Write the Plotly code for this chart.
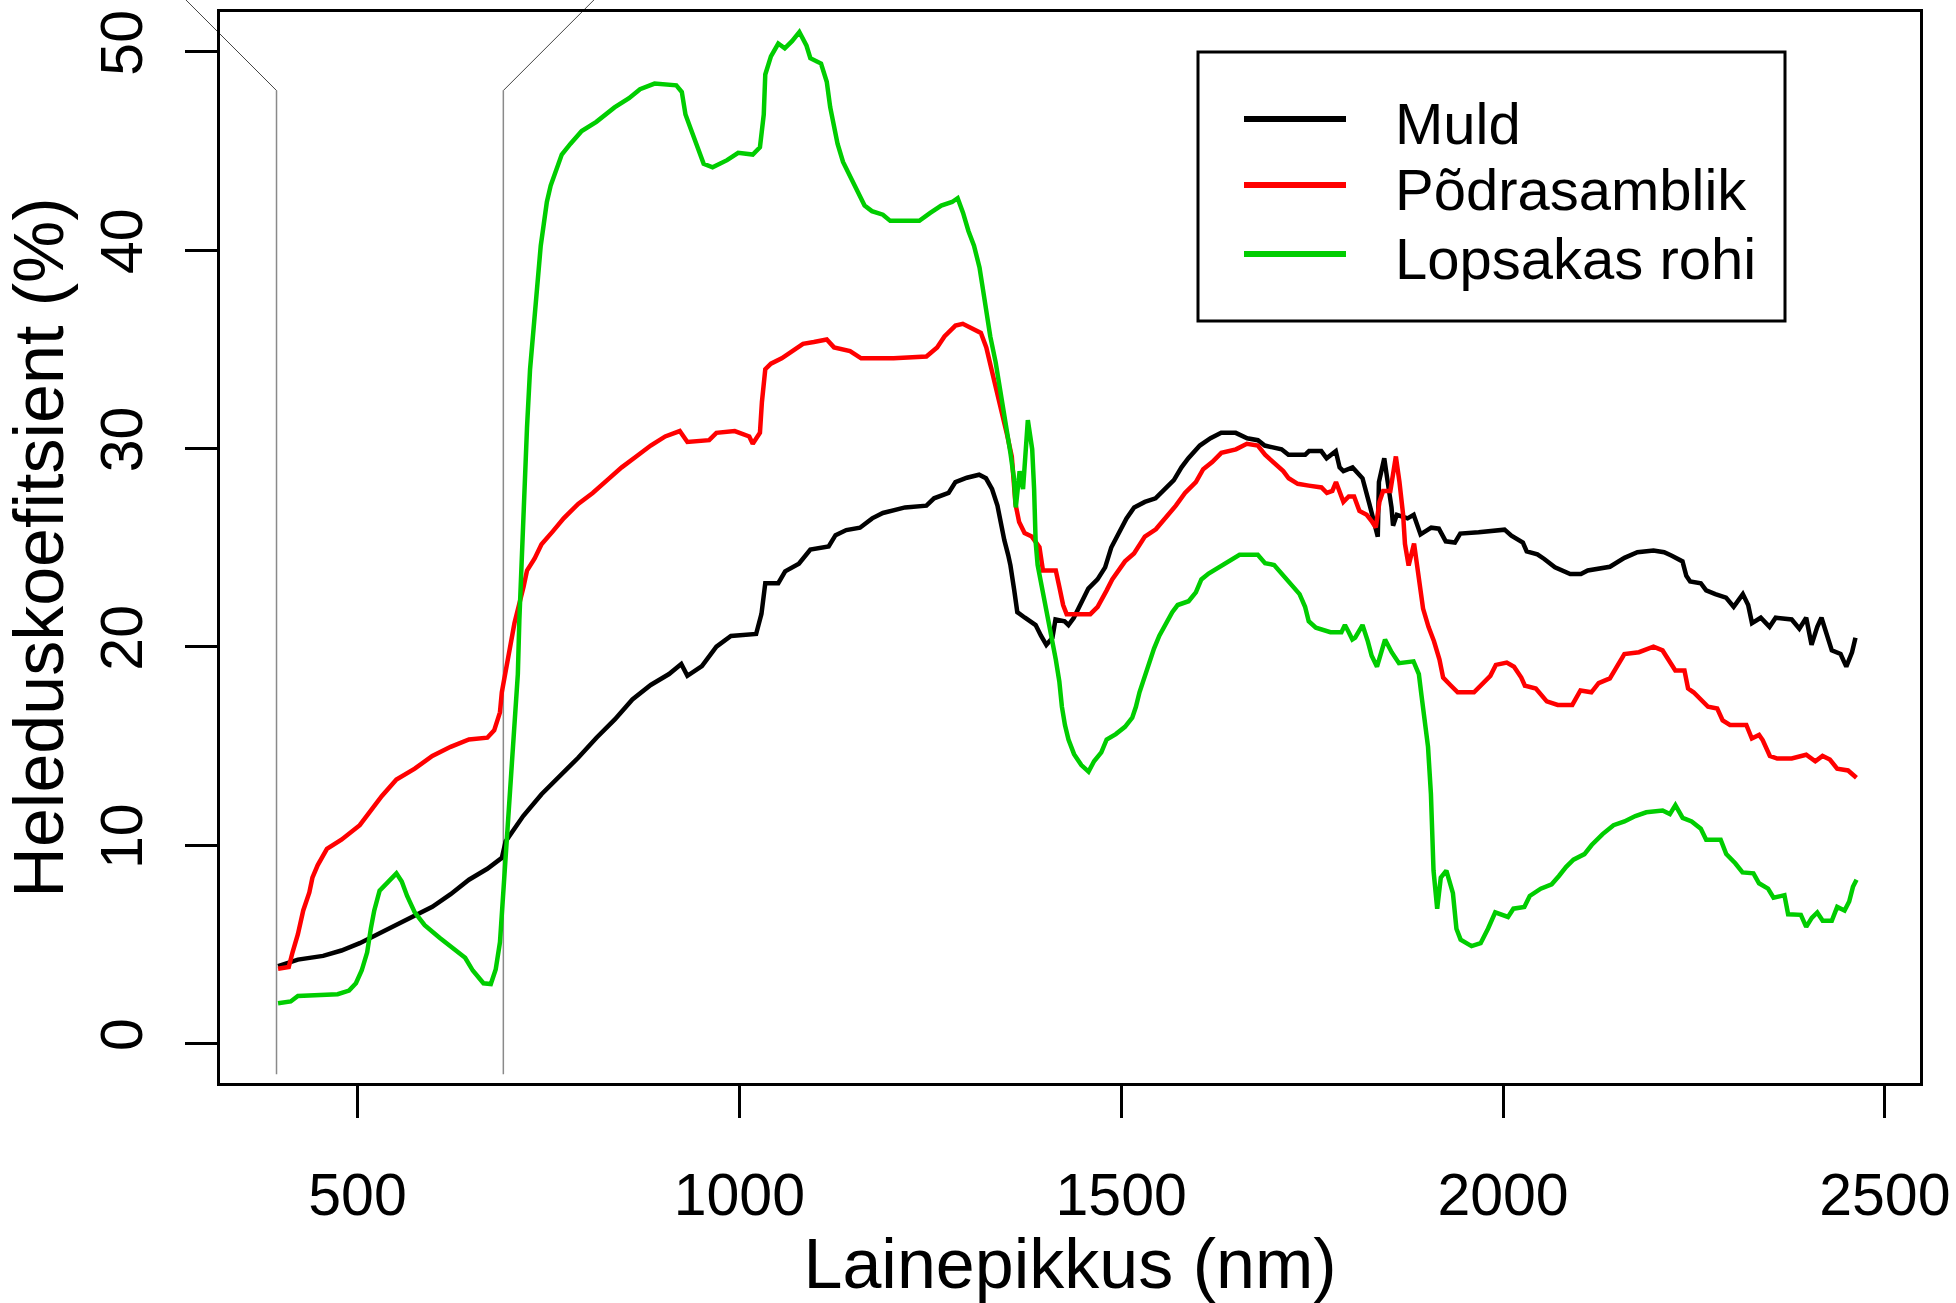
import plotly.graph_objects as go

# ---------------- data ----------------
muld_nm = [396, 422, 455, 479, 503, 527, 551, 575, 598, 622, 646, 670, 689, 694, 717, 741, 765, 789, 813, 837,
           860, 884, 908, 924, 932, 951, 970, 989, 1022, 1029, 1034, 1051, 1060, 1078, 1093, 1117, 1126, 1140,
           1158, 1174, 1188, 1217, 1245, 1255, 1274, 1283, 1298, 1314, 1323, 1331, 1338, 1342, 1347, 1352, 1355,
           1360, 1364, 1374, 1388, 1395, 1402, 1410, 1414, 1426, 1431, 1438, 1445, 1452, 1457, 1469, 1479, 1487,
           1496, 1507, 1517, 1531, 1545, 1557, 1569, 1579, 1588, 1603, 1617, 1631, 1650, 1665, 1679, 1688, 1710,
           1719, 1741, 1746, 1762, 1769, 1774, 1781, 1786, 1791, 1803, 1816, 1825, 1833, 1836, 1837.5, 1844.5,
           1849, 1854, 1856, 1861, 1875, 1883, 1892, 1899, 1906, 1916, 1925, 1937, 1944, 1968, 2002, 2011, 2018,
           2026, 2031, 2045, 2054, 2068, 2088, 2102, 2111, 2140, 2159, 2176, 2197, 2211, 2221, 2235, 2240, 2245,
           2259, 2266, 2278, 2292, 2302, 2314, 2321, 2326, 2337.5, 2349, 2357, 2378, 2388, 2397, 2404, 2411.5,
           2417, 2423, 2430.5, 2442, 2449.5, 2457, 2461.5]
muld_val = [3.89, 4.22, 4.41, 4.68, 5.05, 5.50, 5.96, 6.42, 6.88, 7.52, 8.25, 8.80, 9.35, 10.18, 11.46, 12.56,
            13.48, 14.40, 15.41, 16.33, 17.34, 18.07, 18.62, 19.13, 18.53, 19.02, 20.00, 20.54, 20.64, 21.65,
            23.20, 23.20, 23.80, 24.18, 24.90, 25.05, 25.62, 25.88, 26.00, 26.47, 26.74, 27.02, 27.11, 27.48,
            27.75, 28.30, 28.52, 28.67, 28.49, 27.94, 27.11, 26.29, 25.37, 24.63, 24.10, 22.84, 21.74, 21.46,
            21.09, 20.55, 20.09, 20.45, 21.37, 21.28, 21.09, 21.46, 22.01, 22.56, 22.93, 23.39, 24.00, 25.00,
            25.70, 26.47, 27.02, 27.30, 27.48, 27.94, 28.40, 29.04, 29.50, 30.14, 30.51, 30.78, 30.78, 30.51,
            30.41, 30.14, 29.95, 29.68, 29.68, 29.86, 29.86, 29.50, 29.68, 29.86, 29.04, 28.85, 29.04, 28.49,
            27.20, 25.92, 25.55, 28.30, 29.50, 28.30, 27.02, 26.10, 26.65, 26.47, 26.65, 25.66, 25.85, 26.00,
            25.95, 25.31, 25.25, 25.70, 25.77, 25.90, 25.60, 25.46, 25.25, 24.80, 24.65, 24.42, 24.00, 23.66,
            23.66, 23.84, 24.03, 24.48, 24.76, 24.85, 24.76, 24.58, 24.30, 23.57, 23.29, 23.20, 22.84, 22.65,
            22.47, 22.01, 22.65, 22.10, 21.19, 21.46, 21.00, 21.46, 21.37, 20.91, 21.46, 20.09, 21.00, 21.46,
            20.64, 19.81, 19.63, 18.99, 19.72, 20.45]

podra_nm = [396, 410, 415, 422, 429, 437, 441, 448, 460, 479, 503, 517.5, 532, 551, 575, 598, 622, 646, 670, 679,
            686.6, 689, 696, 701, 705.6, 717.5, 722, 732, 741, 755.5, 770, 789, 808, 827, 846, 865, 884, 903, 922,
            932, 960.5, 970, 994, 1013, 1017.6, 1027, 1029.6, 1034, 1041.4, 1055.5, 1069, 1083.4, 1097.6, 1114.5,
            1124, 1145, 1159.5, 1202, 1245, 1259, 1268.6, 1283, 1292.6, 1306.8, 1316.3, 1323.4, 1328, 1334.3,
            1340, 1345, 1350.6, 1356.8, 1361.6, 1366.4, 1373.5, 1383, 1393, 1397.6, 1414.4, 1419, 1424, 1428.6,
            1459.6, 1469.2, 1476.4, 1481, 1488.3, 1497.7, 1505, 1516.8, 1531, 1545.4, 1557.4, 1571.6, 1583.6,
            1597.8, 1607.4, 1619.2, 1631.2, 1650.3, 1664.6, 1679, 1688.4, 1702.7, 1712.2, 1719.3, 1731.2, 1745.6,
            1762.3, 1769.4, 1776.5, 1781.3, 1786, 1791, 1798, 1805, 1812, 1821.5, 1828.7, 1833.4, 1838.2, 1843,
            1852.5, 1859.7, 1864.4, 1869.2, 1871.6, 1876.4, 1883.5, 1885.8, 1890.5, 1895.3, 1902.4, 1909.6,
            1916.8, 1921.6, 1931, 1940.6, 1962, 1971.5, 1983.4, 1990.6, 2004.9, 2014.4, 2023.9, 2028.7, 2043,
            2057.3, 2071.6, 2090.7, 2101.4, 2115.7, 2125.2, 2139.9, 2149.4, 2158.9, 2178, 2197, 2208.9, 2218.5,
            2225.6, 2237.6, 2242.3, 2249.5, 2261.4, 2268.5, 2280.5, 2287.6, 2297.2, 2318.6, 2325.8, 2335.3, 2340,
            2349.4, 2359, 2378, 2397, 2408.9, 2418.4, 2428, 2437.5, 2451.8, 2462.8]
podra_val = [3.76, 3.85, 4.59, 5.50, 6.70, 7.61, 8.35, 8.99, 9.81, 10.27, 11.00, 11.74, 12.47, 13.30, 13.85, 14.49,
             14.95, 15.32, 15.41, 15.78, 16.69, 17.70, 19.17, 20.27, 21.19, 23.02, 23.84, 24.45, 25.16, 25.80,
             26.47, 27.20, 27.75, 28.40, 29.04, 29.59, 30.14, 30.60, 30.87, 30.32, 30.41, 30.78, 30.87, 30.60,
             30.23, 30.78, 32.34, 33.99, 34.27, 34.54, 34.90, 35.27, 35.36, 35.49, 35.09, 34.90, 34.54, 34.54,
             34.63, 35.09, 35.64, 36.19, 36.28, 36.00, 35.82, 35.09, 34.35, 33.44, 32.52, 31.79, 30.69, 29.59,
             27.20, 26.28, 25.73, 25.55, 25.02, 23.84, 23.84, 23.02, 22.10, 21.64, 21.64, 22.01, 22.47, 22.84,
             23.39, 23.94, 24.30, 24.70, 25.55, 25.92, 26.47, 27.11, 27.75, 28.30, 28.95, 29.31, 29.77, 29.95,
             30.23, 30.14, 29.68, 29.22, 28.85, 28.49, 28.21, 28.12, 28.03, 27.75, 27.85, 28.30, 27.75, 27.30,
             27.57, 27.57, 26.84, 26.65, 26.29, 26.01, 27.30, 27.85, 27.85, 29.59, 28.30, 26.65, 25.18, 24.09,
             25.20, 24.48, 23.20, 21.92, 21.00, 20.27, 19.35, 18.44, 18.07, 17.70, 17.70, 18.07, 18.53, 19.08,
             19.20, 18.99, 18.44, 18.03, 17.89, 17.24, 17.06, 17.06, 17.79, 17.70, 18.16, 18.40, 18.99, 19.63,
             19.72, 20.00, 19.81, 19.17, 18.80, 18.80, 17.89, 17.70, 17.24, 16.97, 16.88, 16.28, 16.05, 16.05,
             15.37, 15.55, 15.29, 14.49, 14.36, 14.36, 14.55, 14.22, 14.49, 14.31, 13.85, 13.76, 13.39]

rohi_nm = [396, 412.6, 422, 455, 474, 489, 498, 505.5, 512.7, 517.5, 522, 529, 541, 551, 558, 565, 575, 588, 607.5,
           627, 641, 651, 665, 674.6, 681, 686.6, 691, 696, 701, 705.6, 710, 712, 715, 717.5, 722, 726, 731, 735.6,
           740, 744, 748, 753, 760, 767.5, 779, 793.6, 812.8, 836.6, 855.6, 870, 889, 917.5, 924.7, 929.5, 936.6,
           943.8, 953.3, 965, 984, 998.5, 1017.6, 1027, 1032, 1034, 1041.4, 1051, 1059.5, 1069, 1078.6, 1088,
           1093, 1107, 1114.5, 1119, 1124, 1128.6, 1135.8, 1145, 1154.6, 1164, 1173.6, 1188, 1197.6, 1235.7,
           1250, 1264.4, 1278.6, 1285.9, 1293, 1300, 1307.3, 1314.5, 1319, 1324, 1328.6, 1335.6, 1340.5, 1345,
           1350, 1355, 1359.6, 1362, 1367, 1371.5, 1377.8, 1383.5, 1386, 1388, 1390.6, 1395.4, 1400, 1404.8,
           1409.7, 1414.4, 1419, 1422.4, 1426.4, 1431, 1438.3, 1447.8, 1457.3, 1464.5, 1474, 1481, 1493, 1505,
           1514.5, 1519.3, 1524, 1531.2, 1536, 1543, 1550, 1557.4, 1566.9, 1574, 1588.3, 1597.8, 1605, 1614.5,
           1626.4, 1638.3, 1655, 1678.9, 1688.4, 1700.3, 1712.2, 1724, 1733.6, 1740.8, 1745.6, 1755, 1774,
           1788.4, 1793, 1798, 1802.7, 1806.4, 1816, 1823, 1828, 1835, 1840.8, 1845.5, 1854.2, 1863.7, 1882.8,
           1889.8, 1893.3, 1897, 1901.8, 1905.6, 1909, 1913.8, 1918.5, 1925.8, 1929.6, 1934.4, 1939, 1944.5,
           1958.8, 1970.7, 1980.3, 1989.8, 2006.5, 2013.6, 2027.9, 2035, 2049.4, 2063.7, 2073.2, 2082.7, 2092.3,
           2106.6, 2116.1, 2130.4, 2144.7, 2159, 2173.3, 2187.6, 2209, 2218.5, 2225.7, 2235.2, 2247, 2259, 2266,
           2285, 2292.3, 2304.1, 2313.6, 2327.9, 2335.2, 2347, 2354.2, 2368.5, 2373.3, 2390, 2397, 2404.3,
           2411.5, 2418.6, 2430.5, 2437.6, 2447.2, 2453.3, 2458.2, 2462.9]
rohi_val = [2.02, 2.11, 2.39, 2.48, 2.48, 2.66, 3.03, 3.67, 4.59, 5.78, 6.70, 7.70, 8.16, 8.57, 8.16, 7.43, 6.60,
            5.96, 5.32, 4.77, 4.31, 3.67, 3.03, 2.99, 3.72, 5.10, 7.61, 9.81, 12.75, 15.87, 18.62, 21.37, 24.50,
            27.02, 31.05, 33.99, 36.19, 38.57, 40.22, 41.32, 42.42, 43.25, 44.08, 44.81, 45.36, 46.00, 46.46,
            47.19, 47.65, 48.11, 48.39, 48.30, 47.97, 46.83, 46.09, 45.36, 44.35, 44.17, 44.53, 44.90, 44.81,
            45.18, 46.83, 48.85, 49.76, 50.41, 50.17, 50.53, 50.99, 50.30, 49.67, 49.40, 48.48, 47.20, 46.28,
            45.36, 44.44, 43.71, 42.97, 42.24, 41.96, 41.78, 41.47, 41.47, 41.87, 42.24, 42.42, 42.61, 41.87,
            40.96, 40.22, 39.12, 38.02, 36.74, 35.64, 34.35, 33.25, 32.15, 31.05, 29.77, 28.49, 27.02, 28.85,
            27.94, 31.42, 29.95, 27.94, 25.30, 24.12, 23.20, 22.29, 21.37, 20.45, 19.35, 18.25, 16.97, 16.05,
            15.32, 14.58, 14.03, 13.70, 14.22, 14.67, 15.32, 15.59, 15.96, 16.42, 16.97, 17.70, 18.53, 19.17,
            19.90, 20.55, 21.09, 21.74, 22.10, 22.29, 22.74, 23.39, 23.69, 23.96, 24.22, 24.63, 24.63, 24.21,
            24.12, 23.57, 23.02, 22.65, 22.01, 21.28, 20.96, 20.73, 20.73, 21.09, 20.73, 20.36, 20.45, 21.09,
            20.27, 19.54, 18.99, 19.72, 20.36, 19.72, 19.17, 19.26, 18.62, 17.52, 16.23, 14.95, 12.56, 8.71,
            6.79, 8.35, 8.71, 8.17, 7.57, 5.78, 5.23, 4.90, 5.05, 5.78, 6.60, 6.37, 6.79, 6.88, 7.43, 7.80, 8.02,
            8.44, 8.90, 9.26, 9.54, 10.00, 10.55, 11.00, 11.19, 11.46, 11.65, 11.74, 11.56, 12.01, 11.37, 11.19,
            10.82, 10.27, 10.27, 9.54, 9.08, 8.62, 8.57, 8.07, 7.80, 7.34, 7.47, 6.51, 6.48, 5.87, 6.33, 6.60,
            6.18, 6.18, 6.88, 6.70, 7.15, 7.89, 8.25]

series_names = ["Muld", "Põdrasamblik", "Lopsakas rohi"]
series_colors = ["#000000", "#FF0000", "#00CD00"]

x_ticks = [500, 1000, 1500, 2000, 2500]
y_ticks = [0, 10, 20, 30, 40, 50]

marker_nm = [394, 691]          # grey guide lines
marker_range = [-1.56, 48.04]   # their vertical extent (y units)

x_title = "Lainepikkus (nm)"
y_title = "Heleduskoefitsient (%)"

# ---------------- layout geometry ----------------
W, H = 1956, 1303
ML, MR, MT, MB = 220, 36, 12, 220
PW, PH = W - ML - MR, H - MT - MB
X_RANGE = [320.0, 2546.0]
Y_RANGE = [-2.0, 52.0]
FONT = "Liberation Sans, Arial, Helvetica, sans-serif"


def px_x(px):
    return (px - ML) / PW


def px_y(py):
    return (MT + PH - py) / PH


def nm_to_px(v):
    return ML + (v - X_RANGE[0]) / (X_RANGE[1] - X_RANGE[0]) * PW


def val_to_py(v):
    return MT + PH - (v - Y_RANGE[0]) / (Y_RANGE[1] - Y_RANGE[0]) * PH


fig = go.Figure()
for nm, val, name, col in [(muld_nm, muld_val, series_names[0], series_colors[0]),
                           (podra_nm, podra_val, series_names[1], series_colors[1]),
                           (rohi_nm, rohi_val, series_names[2], series_colors[2])]:
    fig.add_trace(go.Scatter(x=nm, y=val, mode="lines", name=name,
                             line=dict(color=col, width=4.5), showlegend=False))

shapes = []
# grey guide lines with diagonal continuation beyond the frame
for i, nm in enumerate(marker_nm):
    xb = nm_to_px(nm)
    yb = val_to_py(marker_range[0])
    yt = val_to_py(marker_range[1])
    shapes.append(dict(type="line", xref="paper", yref="paper", layer="below",
                       x0=px_x(xb), y0=px_y(yb), x1=px_x(xb), y1=px_y(yt),
                       line=dict(color="#8a8a8a", width=1.5)))
    d = 110
    xe = xb - d if i == 0 else xb + d
    shapes.append(dict(type="line", xref="paper", yref="paper", layer="below",
                       x0=px_x(xb), y0=px_y(yt), x1=px_x(xe), y1=px_y(yt - d),
                       line=dict(color="#444444", width=1)))

# legend box
shapes.append(dict(type="rect", xref="paper", yref="paper",
                   x0=px_x(1198), x1=px_x(1785), y0=px_y(321), y1=px_y(52),
                   line=dict(color="black", width=3), fillcolor="white", layer="above"))
annotations = []
leg_y = [119, 185, 254]
for i in range(3):
    shapes.append(dict(type="line", xref="paper", yref="paper",
                       x0=px_x(1244), x1=px_x(1346), y0=px_y(leg_y[i]), y1=px_y(leg_y[i]),
                       line=dict(color=series_colors[i], width=6), layer="above"))
    annotations.append(dict(xref="paper", yref="paper", x=px_x(1393), y=px_y(leg_y[i] + 5),
                            xanchor="left", yanchor="middle", showarrow=False,
                            text=series_names[i], font=dict(size=58, color="black", family=FONT)))

fig.update_layout(
    width=W, height=H,
    margin=dict(l=ML, r=MR, t=MT, b=MB, pad=0, autoexpand=False),
    paper_bgcolor="white", plot_bgcolor="white",
    font=dict(family=FONT, color="black"),
    shapes=shapes, annotations=annotations,
    showlegend=False,
    xaxis=dict(range=X_RANGE, tickmode="array", tickvals=x_ticks, ticktext=[str(t) for t in x_ticks],
               automargin=False,
               showgrid=False, zeroline=False, showline=True, mirror=True, linecolor="black", linewidth=3,
               ticks="outside", ticklen=32, tickwidth=3, tickcolor="black",
               tickfont=dict(size=59, family=FONT, color="black"), ticklabelstandoff=26,
               title=dict(text=x_title, font=dict(size=70, family=FONT, color="black"), standoff=12)),
    yaxis=dict(range=Y_RANGE, tickmode="array", tickvals=y_ticks, ticktext=[str(t) for t in y_ticks],
               automargin=False,
               showgrid=False, zeroline=False, showline=True, mirror=True, linecolor="black", linewidth=3,
               ticks="outside", ticklen=32, tickwidth=3, tickcolor="black", tickangle=-90,
               tickfont=dict(size=59, family=FONT, color="black"), ticklabelstandoff=19,
               title=dict(text=y_title, font=dict(size=70, family=FONT, color="black"), standoff=18)),
)

fig.write_html("out.html")
